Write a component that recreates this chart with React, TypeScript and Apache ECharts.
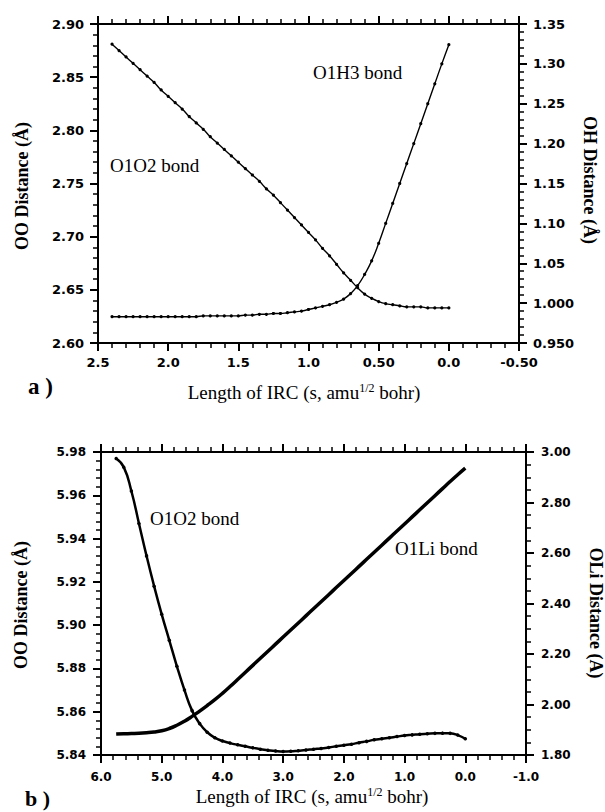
import React, { useEffect, useRef } from 'react';
import * as echarts from 'echarts';

// ---------- Panel a) data ----------
const topS = [2.40, 2.35, 2.30, 2.25, 2.20, 2.15, 2.10, 2.05, 2.00, 1.95, 1.90, 1.85, 1.80, 1.75, 1.70, 1.65, 1.60, 1.55, 1.50, 1.45, 1.40, 1.35, 1.30, 1.25, 1.20, 1.15, 1.10, 1.05, 1.00, 0.95, 0.90, 0.85, 0.80, 0.75, 0.70, 0.65, 0.60, 0.55, 0.50, 0.45, 0.40, 0.35, 0.30, 0.25, 0.20, 0.15, 0.10, 0.05, 0.00];
const topO1O2 = [2.881, 2.875, 2.869, 2.863, 2.857, 2.851, 2.845, 2.838, 2.832, 2.826, 2.820, 2.813, 2.807, 2.801, 2.794, 2.788, 2.782, 2.776, 2.770, 2.764, 2.758, 2.752, 2.745, 2.739, 2.732, 2.725, 2.718, 2.711, 2.704, 2.697, 2.689, 2.682, 2.674, 2.666, 2.659, 2.652, 2.646, 2.642, 2.639, 2.637, 2.636, 2.635, 2.634, 2.634, 2.634, 2.633, 2.633, 2.633, 2.633];
const topO1H3 = [0.983, 0.983, 0.983, 0.983, 0.983, 0.983, 0.983, 0.983, 0.983, 0.983, 0.983, 0.983, 0.983, 0.984, 0.984, 0.984, 0.984, 0.984, 0.984, 0.985, 0.985, 0.986, 0.986, 0.987, 0.987, 0.988, 0.989, 0.990, 0.992, 0.994, 0.996, 0.998, 1.001, 1.005, 1.012, 1.022, 1.036, 1.053, 1.075, 1.100, 1.125, 1.150, 1.175, 1.200, 1.225, 1.250, 1.275, 1.300, 1.324];

const topXValues = [-0.5, 0, 0.5, 1.0, 1.5, 2.0, 2.5];
const topXLabels = ['-0.50', '0.0', '0.50', '1.0', '1.5', '2.0', '2.5'];
const topLeftValues = [2.60, 2.65, 2.70, 2.75, 2.80, 2.85, 2.90];
const topLeftLabels = ['2.60', '2.65', '2.70', '2.75', '2.80', '2.85', '2.90'];
const topRightValues = [0.95, 1.00, 1.05, 1.10, 1.15, 1.20, 1.25, 1.30, 1.35];
const topRightLabels = ['0.950', '1.000', '1.05', '1.10', '1.15', '1.20', '1.25', '1.30', '1.35'];

// ---------- Panel b) data ----------
const botS = [5.750, 5.625, 5.500, 5.375, 5.250, 5.125, 5.000, 4.875, 4.750, 4.625, 4.500, 4.375, 4.250, 4.125, 4.000, 3.875, 3.750, 3.625, 3.500, 3.375, 3.250, 3.125, 3.000, 2.875, 2.750, 2.625, 2.500, 2.375, 2.250, 2.125, 2.000, 1.875, 1.750, 1.625, 1.500, 1.375, 1.250, 1.125, 1.000, 0.875, 0.750, 0.625, 0.500, 0.375, 0.250, 0.125, 0.000];
const botO1O2 = [5.977, 5.973, 5.962, 5.947, 5.932, 5.918, 5.905, 5.893, 5.881, 5.870, 5.8605, 5.8545, 5.8505, 5.848, 5.8465, 5.8455, 5.8447, 5.844, 5.8433, 5.8427, 5.8422, 5.8418, 5.8416, 5.8417, 5.842, 5.8423, 5.8427, 5.843, 5.8435, 5.844, 5.8445, 5.845, 5.8457, 5.8463, 5.847, 5.8475, 5.848, 5.8485, 5.849, 5.8493, 5.8496, 5.8498, 5.850, 5.8501, 5.850, 5.8492, 5.8475];
const botO1Li = [1.883, 1.884, 1.885, 1.886, 1.888, 1.891, 1.896, 1.905, 1.918, 1.934, 1.953, 1.974, 1.996, 2.019, 2.044, 2.071, 2.099, 2.127, 2.155, 2.183, 2.211, 2.239, 2.267, 2.295, 2.323, 2.351, 2.379, 2.407, 2.435, 2.463, 2.491, 2.519, 2.547, 2.575, 2.603, 2.631, 2.659, 2.687, 2.715, 2.743, 2.771, 2.799, 2.827, 2.855, 2.883, 2.910, 2.936];

const botXValues = [-1, 0, 1, 2, 3, 4, 5, 6];
const botXLabels = ['-1.0', '0.0', '1.0', '2.0', '3.0', '4.0', '5.0', '6.0'];
const botLeftValues = [5.84, 5.86, 5.88, 5.90, 5.92, 5.94, 5.96, 5.98];
const botLeftLabels = ['5.84', '5.86', '5.88', '5.90', '5.92', '5.94', '5.96', '5.98'];
const botRightValues = [1.80, 2.00, 2.20, 2.40, 2.60, 2.80, 3.00];
const botRightLabels = ['1.80', '2.00', '2.20', '2.40', '2.60', '2.80', '3.00'];

const pick = (vals: number[], labels: string[]) => (v: number) => {
  const i = vals.findIndex((t) => Math.abs(t - v) < 1e-6);
  return i >= 0 ? labels[i] : '';
};

const SANS = 'DejaVu Sans';
const SERIF = '"Liberation Serif", "Times New Roman", serif';

function mkAxis(extra: any, fontSize: number, labelMargin: number, formatter: any, minorSplit: number, isY: boolean) {
  const axisLine: any = { show: true, lineStyle: { color: '#000', width: 2 } };
  if (isY) axisLine.onZero = false;
  return {
    type: 'value',
    ...extra,
    axisLine,
    axisTick: { show: true, length: 8, lineStyle: { color: '#000', width: 2 } },
    minorTick: { show: true, splitNumber: minorSplit, length: 5, lineStyle: { color: '#000', width: 1.5 } },
    splitLine: { show: false },
    axisLabel: formatter
      ? { show: true, color: '#000', fontFamily: SANS, fontWeight: 'bold', fontSize, margin: labelMargin, formatter }
      : { show: false },
  };
}

const txt = (x: number, y: number, text: string, font: string, align = 'left', rotation = 0) => ({
  type: 'text', x, y, rotation,
  style: { text, font, fill: '#000', textAlign: align, textVerticalAlign: 'middle', align, verticalAlign: 'middle' },
});

const xTitle = (x: number, y: number) => ({
  type: 'text', x, y,
  style: {
    text: '{a|Length of IRC (s, amu}{s|1/2}{a| bohr)}',
    rich: {
      a: { fontFamily: SERIF, fontSize: 19, fill: '#000', color: '#000' },
      s: { fontFamily: SERIF, fontSize: 12, verticalAlign: 'top', color: '#000', fill: '#000', padding: [0, 0, 8, 0] },
    },
    textAlign: 'center', textVerticalAlign: 'middle', align: 'center', verticalAlign: 'middle', fill: '#000',
  },
});

export default function App() {
  const ref = useRef<HTMLDivElement>(null);
  useEffect(() => {
    if (!ref.current) return;
    const chart = echarts.init(ref.current, null, { renderer: 'svg' });
    const line = (width: number) => ({ color: '#000', width });

    const option: any = {
      animation: false,
      grid: [
        { left: 98, top: 24, right: 86, height: 319 },
        { left: 101, top: 452, right: 79, height: 303 },
      ],
      xAxis: [
        mkAxis({ gridIndex: 0, position: 'bottom', min: -0.5, max: 2.5, interval: 0.5, inverse: true }, 13, 13, pick(topXValues, topXLabels), 5, false),
        mkAxis({ gridIndex: 0, position: 'top', min: -0.5, max: 2.5, interval: 0.5, inverse: true }, 13, 13, null, 5, false),
        mkAxis({ gridIndex: 1, position: 'bottom', min: -1, max: 6, interval: 1, inverse: true }, 12, 16, pick(botXValues, botXLabels), 5, false),
        mkAxis({ gridIndex: 1, position: 'top', min: -1, max: 6, interval: 1, inverse: true }, 12, 16, null, 5, false),
      ],
      yAxis: [
        mkAxis({ gridIndex: 0, position: 'left', min: 2.60, max: 2.90, interval: 0.05 }, 13, 14, pick(topLeftValues, topLeftLabels), 5, true),
        mkAxis({ gridIndex: 0, position: 'right', min: 0.95, max: 1.35, interval: 0.05 }, 13, 14, pick(topRightValues, topRightLabels), 5, true),
        mkAxis({ gridIndex: 1, position: 'left', min: 5.84, max: 5.98, interval: 0.02 }, 12, 15, pick(botLeftValues, botLeftLabels), 5, true),
        mkAxis({ gridIndex: 1, position: 'right', min: 1.80, max: 3.00, interval: 0.20 }, 12, 15, pick(botRightValues, botRightLabels), 4, true),
      ],
      series: [
        {
          name: 'O1O2 bond (a)', type: 'line', xAxisIndex: 0, yAxisIndex: 0,
          data: topS.map((s, i) => [s, topO1O2[i]]),
          smooth: true, symbol: 'circle', symbolSize: 3.2, lineStyle: line(1.4), itemStyle: { color: '#000' },
        },
        {
          name: 'O1H3 bond', type: 'line', xAxisIndex: 0, yAxisIndex: 1,
          data: topS.map((s, i) => [s, topO1H3[i]]),
          smooth: true, symbol: 'circle', symbolSize: 3.2, lineStyle: line(1.4), itemStyle: { color: '#000' },
        },
        {
          name: 'O1O2 bond (b)', type: 'line', xAxisIndex: 2, yAxisIndex: 2,
          data: botS.map((s, i) => [s, botO1O2[i]]),
          smooth: true, symbol: 'circle', symbolSize: 3.5, lineStyle: line(2.5), itemStyle: { color: '#000' },
        },
        {
          name: 'O1Li bond', type: 'line', xAxisIndex: 2, yAxisIndex: 3,
          data: botS.map((s, i) => [s, botO1Li[i]]),
          smooth: true, symbol: 'none', lineStyle: line(3.5),
        },
      ],
      graphic: [
        txt(22, 186, 'OO Distance (Å)', `bold 18px ${SERIF}`, 'center', Math.PI / 2),
        txt(590, 180, 'OH Distance (Å)', `bold 18px ${SERIF}`, 'center', -Math.PI / 2),
        txt(21, 605, 'OO Distance (Å)', `bold 18px ${SERIF}`, 'center', Math.PI / 2),
        txt(596, 613, 'OLi Distance (A)', `bold 18px ${SERIF}`, 'center', -Math.PI / 2),
        xTitle(304, 392),
        xTitle(312, 796),
        txt(28, 386, 'a )', `bold 23px ${SERIF}`, 'left'),
        txt(25, 798, 'b )', `bold 22px ${SERIF}`, 'left'),
        txt(110, 165, 'O1O2 bond', `19px ${SERIF}`, 'left'),
        txt(313, 72, 'O1H3 bond', `19px ${SERIF}`, 'left'),
        txt(150, 518, 'O1O2 bond', `19px ${SERIF}`, 'left'),
        txt(395, 548, 'O1Li bond', `19px ${SERIF}`, 'left'),
      ],
    };
    chart.setOption(option);
    return () => chart.dispose();
  }, []);
  return <div ref={ref} style={{ position: 'fixed', left: 0, top: 0, width: 605, height: 812, background: '#fff' }} />;
}
